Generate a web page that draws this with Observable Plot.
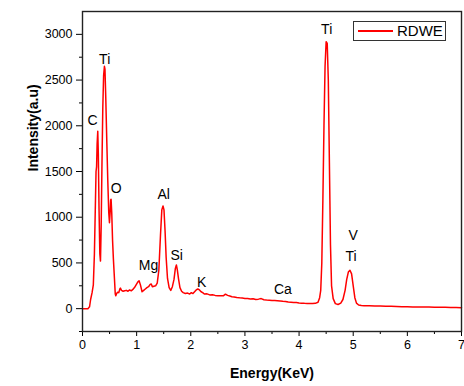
<!DOCTYPE html>
<html>
<head>
<meta charset="utf-8">
<script src="https://cdn.jsdelivr.net/npm/d3@7"></script>
<script src="https://cdn.jsdelivr.net/npm/@observablehq/plot@0.6"></script>
<style>
  html, body { margin: 0; padding: 0; background: #fff; }
  #wrap { position: relative; width: 464px; height: 386px; font-family: "Liberation Sans", Arial, sans-serif; }
  #legend {
    position: absolute; left: 353px; top: 21px; width: 91px; height: 18px;
    border: 1px solid #333; background: #fff; box-sizing: content-box;
  }
  #legend .swatch { position: absolute; left: 4px; top: 8px; width: 35px; height: 2px; background: #ff0000; }
  #legend .name { position: absolute; left: 43px; top: 0px; font-size: 15px; line-height: 18px; color: #000; }
</style>
</head>
<body>
<div id="wrap"></div>
<script>
// EDS spectrum of the RDWE sample
const energyKeV = [
  0, 0.05, 0.10, 0.13, 0.15, 0.177, 0.20, 0.22, 0.24, 0.25, 0.26, 0.27, 0.282, 0.292, 0.305, 0.32, 0.332,
  0.345, 0.36, 0.375, 0.39, 0.405, 0.415, 0.43, 0.45, 0.467, 0.485, 0.498, 0.51, 0.52, 0.528, 0.54, 0.555,
  0.57, 0.59, 0.605, 0.615, 0.63, 0.65, 0.67, 0.69, 0.70, 0.72, 0.75, 0.78, 0.81, 0.84, 0.87, 0.90, 0.93,
  0.96, 0.99, 1.02, 1.045, 1.07, 1.10, 1.13, 1.16, 1.19, 1.22, 1.25, 1.27, 1.29, 1.32, 1.35, 1.38, 1.41,
  1.44, 1.465, 1.487, 1.505, 1.525, 1.545, 1.57, 1.60, 1.63, 1.66, 1.69, 1.715, 1.734, 1.75, 1.775, 1.80,
  1.83, 1.86, 1.90, 1.94, 1.98, 2.01, 2.04, 2.07, 2.10, 2.13, 2.16, 2.19, 2.22, 2.25, 2.30, 2.35, 2.40,
  2.45, 2.50, 2.55, 2.60, 2.64, 2.68, 2.72, 2.76, 2.80, 2.85, 2.90, 2.95, 3.00, 3.05, 3.10, 3.15, 3.20,
  3.25, 3.30, 3.35, 3.40, 3.45, 3.50, 3.55, 3.60, 3.65, 3.70, 3.75, 3.80, 3.85, 3.90, 3.95, 4.00, 4.05,
  4.10, 4.15, 4.20, 4.25, 4.30, 4.35, 4.38, 4.40, 4.42, 4.44, 4.46, 4.48, 4.50, 4.52, 4.54, 4.56, 4.58,
  4.60, 4.63, 4.67, 4.72, 4.77, 4.81, 4.85, 4.88, 4.91, 4.94, 4.97, 5.00, 5.03, 5.06, 5.10, 5.15, 5.20,
  5.30, 5.40, 5.50, 5.60, 5.70, 5.80, 5.90, 6.00, 6.10, 6.20, 6.30, 6.40, 6.50, 6.60, 6.70, 6.80, 6.90, 7.00
];
const intensity = [
  0, 0, 0, 20, 100, 175, 260, 600, 1200, 1500, 1550, 1800, 1940, 1700, 1100, 600, 520,
  900, 1600, 2200, 2550, 2650, 2620, 2300, 1800, 1400, 1050, 940, 1050, 1190, 1196, 1050, 750,
  550, 330, 160, 140, 165, 180, 175, 215, 225, 200, 190, 195, 200, 190, 205, 195, 210,
  230, 260, 290, 305, 260, 185, 200, 215, 230, 240, 265, 270, 240, 245, 250, 280, 420,
  800, 1080, 1123, 1080, 850, 560, 330, 230, 200, 240, 320, 440, 478, 430, 320, 230,
  190, 175, 165, 170, 160, 175, 165, 185, 205, 215, 205, 185, 175, 160, 162, 150, 152,
  145, 140, 142, 140, 158, 145, 138, 130, 128, 122, 118, 116, 112, 110, 106, 108, 100,
  104, 110, 98, 95, 93, 90, 88, 86, 83, 80, 78, 72, 70, 68, 66, 62, 60,
  58, 57, 55, 55, 58, 70, 120, 200, 500, 1200, 2000, 2650, 2920, 2900, 2500, 1600, 700,
  250, 110, 55, 45, 60, 100, 200, 320, 400, 420, 380, 250, 120, 60, 40, 34, 32,
  31, 30, 28, 27, 25, 24, 22, 20, 19, 18, 19, 17, 16, 15, 14, 13, 12, 11
];

// Element annotations (text anchor position in keV / counts)
const peakNames = ["C", "Ti", "O", "Mg", "Al", "Si", "K", "Ca", "Ti", "V", "Ti"];
const peakLabelX = [0.185, 0.41, 0.62, 1.22, 1.50, 1.74, 2.20, 3.70, 4.51, 5.00, 4.96];
const peakLabelY = [2063, 2730, 1309, 467, 1243, 576, 281, 204, 3058, 795, 565];

const xMajorTicks = [0, 1, 2, 3, 4, 5, 6, 7];
const xMinorTicks = [0.5, 1.5, 2.5, 3.5, 4.5, 5.5, 6.5];
const yMajorTicks = [0, 500, 1000, 1500, 2000, 2500, 3000];
const yMinorTicks = [-250, 250, 750, 1250, 1750, 2250, 2750];

const spectrum = energyKeV.map((e, i) => ({energy: e, counts: intensity[i]}));
const peaks = peakNames.map((n, i) => ({name: n, x: peakLabelX[i], y: peakLabelY[i]}));

const font = "'Liberation Sans', Arial, sans-serif";

const chart = Plot.plot({
  width: 464,
  height: 386,
  marginLeft: 82,
  marginRight: 3,
  marginTop: 11,
  marginBottom: 55,
  style: {fontFamily: font, background: "#fff", color: "#000", overflow: "visible"},
  x: {domain: [0, 7]},
  y: {domain: [-250, 3250]},
  marks: [
    Plot.axisX({ticks: xMajorTicks, tickSize: 5, tickPadding: 4, fontSize: 12.5, label: null, tickFormat: d3.format("d")}),
    Plot.axisX({ticks: xMinorTicks, tickSize: 3, tickFormat: () => "", label: null}),
    Plot.axisY({ticks: yMajorTicks, tickSize: 6, tickPadding: 4, fontSize: 12.5, label: null, tickFormat: d3.format("d")}),
    Plot.axisY({ticks: yMinorTicks, tickSize: 3, tickFormat: () => "", label: null}),
    Plot.line(spectrum, {x: "energy", y: "counts", stroke: "#ff0000", strokeWidth: 1.5}),
    Plot.text(peaks, {x: "x", y: "y", text: "name", fontSize: 14, fill: "#000"}),
    Plot.frame({stroke: "#222", strokeWidth: 1.4}),
    Plot.text(["Energy(KeV)"], {frameAnchor: "bottom", dy: 46, fontSize: 14, fontWeight: "bold", fill: "#000"}),
    Plot.text(["Intensity(a.u)"], {frameAnchor: "left", rotate: -90, dx: -49, fontSize: 14, fontWeight: "bold", fill: "#000"})
  ]
});

const wrap = document.getElementById("wrap");
wrap.appendChild(chart);

// Series key
const legend = document.createElement("div");
legend.id = "legend";
legend.innerHTML = '<div class="swatch"></div><div class="name">RDWE</div>';
wrap.appendChild(legend);
</script>
</body>
</html>
